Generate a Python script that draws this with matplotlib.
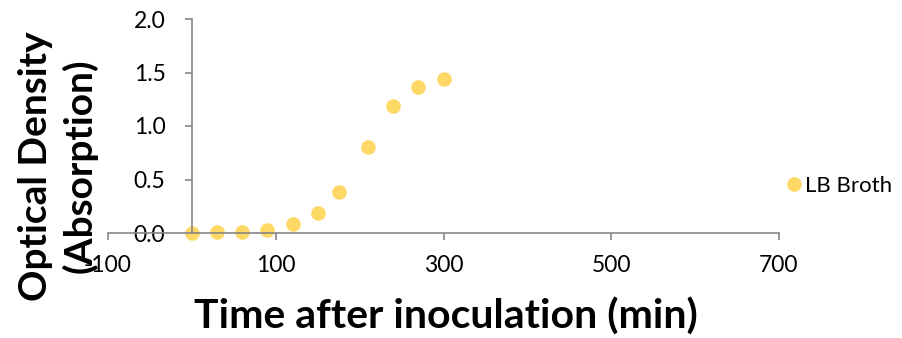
import matplotlib.pyplot as plt

# data
time_min = [0, 30, 60, 90, 120, 150, 175, 210, 240, 270, 300]
od = [0.00, 0.01, 0.01, 0.03, 0.08, 0.19, 0.38, 0.80, 1.19, 1.36, 1.44]
x_ticks = [-100, 100, 300, 500, 700]
y_ticks = [0.0, 0.5, 1.0, 1.5, 2.0]

plt.rcParams['font.family'] = ['Lato', 'DejaVu Sans']
plt.rcParams['axes.unicode_minus'] = False
axis_col = '#868686'
dot_col = '#FFD966'

fig = plt.figure(figsize=(9.02, 3.38), dpi=100)
ax = fig.add_axes([108 / 902, 105 / 338, 671 / 902, 214 / 338])

ax.plot(time_min, od, 'o', color=dot_col, markersize=9.5, label='LB Broth', clip_on=False)

ax.set_xlim(-100, 700)
ax.set_ylim(0, 2.0)
ax.set_xticks(x_ticks)
ax.set_yticks(y_ticks)
ax.set_yticklabels(['%.1f' % v for v in y_ticks])

# y axis crosses at x = 0, like the Excel chart
ax.spines['left'].set_position(('data', 0))
ax.spines['right'].set_visible(False)
ax.spines['top'].set_visible(False)
for s in ('left', 'bottom'):
    ax.spines[s].set_color(axis_col)
    ax.spines[s].set_linewidth(1.2)
ax.tick_params(axis='both', colors=axis_col, length=5, width=1.2, labelsize=16.5, labelcolor='black')
ax.tick_params(axis='y', pad=14)
ax.tick_params(axis='x', pad=11)

fig.text(446 / 902, 21 / 338, 'Time after inoculation (min)', fontsize=29.5, fontweight='bold',
         ha='center', va='center')
fig.text(58 / 902, 172 / 338, 'Optical Density\n(Absorption)', rotation=90, fontsize=28,
         fontweight='bold', ha='center', va='center', linespacing=1.3)

ax.legend(loc='center left', bbox_to_anchor=(785 / 902, (338 - 186) / 338),
          bbox_transform=fig.transFigure, frameon=False, fontsize=16,
          handlelength=0.8, handletextpad=0.1, borderaxespad=0, borderpad=0)

fig.savefig('out.png', dpi=100)
